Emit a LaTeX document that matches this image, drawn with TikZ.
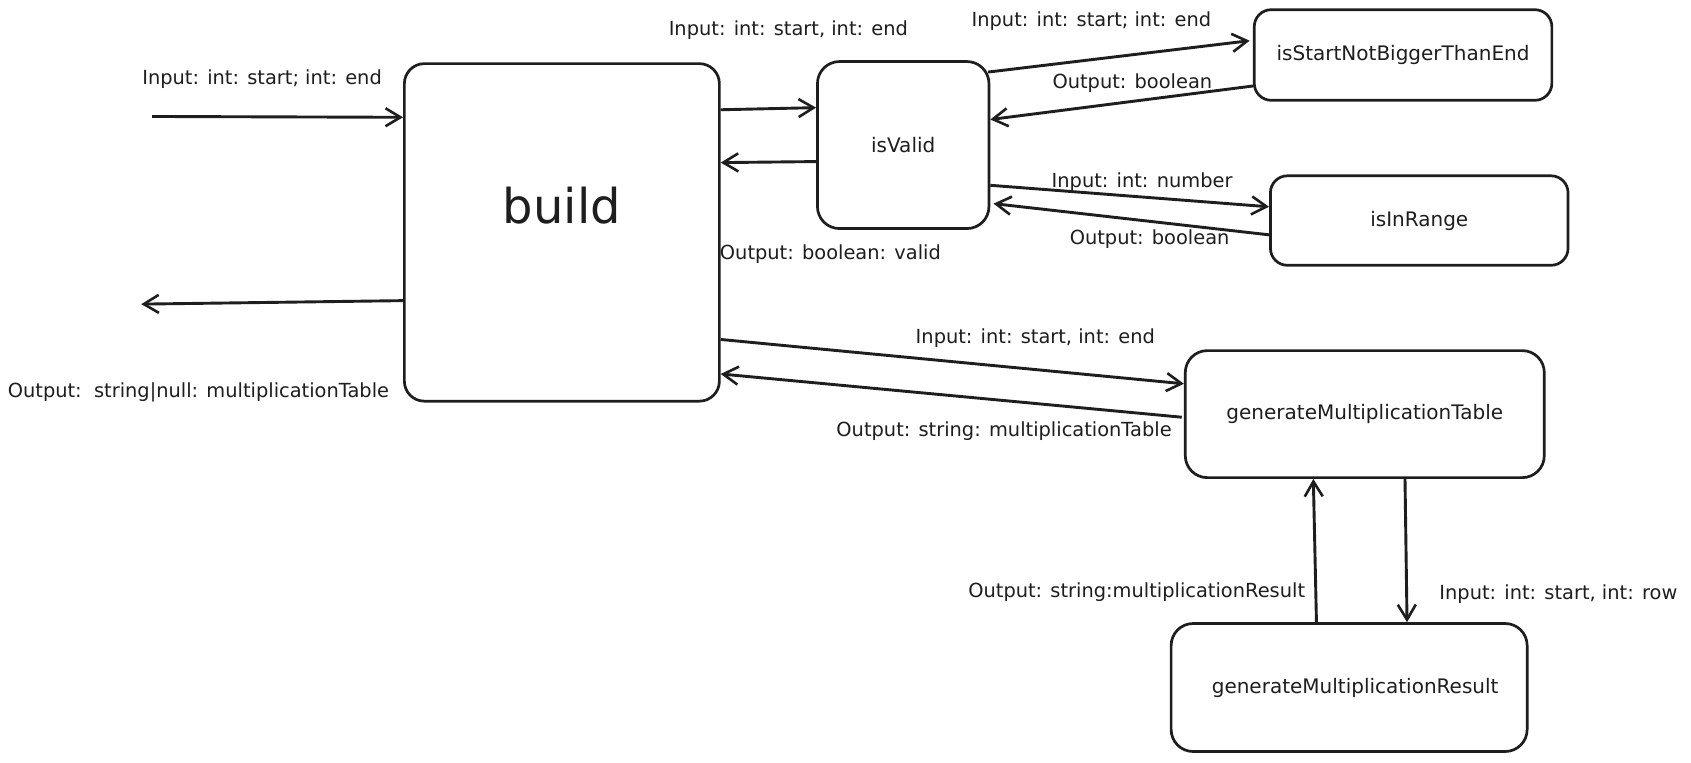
\documentclass[tikz,border=0pt]{standalone}
\usepackage{fontspec}
\setmainfont{DejaVu Sans}
\usetikzlibrary{arrows.meta,calc}
\definecolor{ink}{HTML}{1E1E1E}
\tikzset{
  box/.style={draw=ink, line width=2.7pt, rounded corners=20pt, inner sep=0pt, text=ink, font=\fontsize{20}{24}\selectfont},
  arr/.style={draw=ink, line width=2.9pt, -{Straight Barb[length=15pt,width=18pt,line width=2.6pt]}},
  lbl/.style={inner sep=0pt, text=ink, font=\fontsize{19.4}{23}\selectfont},
}
\begin{document}
\begin{tikzpicture}[x=1.0784pt,y=-1.0784pt]
\useasboundingbox[fill=white] (0,0) rectangle (1568,707);
% boxes
\node[box, minimum width=315pt, minimum height=337.5pt,
      label={[lbl, font=\fontsize{48}{56}\selectfont, yshift=27pt]center:build}] (build) at (521,215.5) {};
\node[box, minimum width=171.5pt, minimum height=167pt, rounded corners=22pt] (isValid) at (837.5,134.5) {isValid};
\node[box, minimum width=297.6pt, minimum height=90.6pt, rounded corners=17pt] (isStart) at (1301,51) {isStartNotBiggerThanEnd};
\node[box, minimum width=297.6pt, minimum height=89.5pt, rounded corners=17pt] (isInRange) at (1316,204.5) {isInRange};
\node[box, minimum width=359pt, minimum height=127pt, rounded corners=22pt] (genTable) at (1265.5,384) {generateMultiplicationTable};
\node[box, minimum width=356pt, minimum height=128pt, rounded corners=22pt] (genResult) at (1251,637.5) {\hspace*{12pt}generateMultiplicationResult};
% free ends
\coordinate (in1) at (141,108);
\coordinate (out1) at (131,282);
% connectors
\draw[arr] (in1) -- ($(build.north west)+(0,51)$);
\draw[arr] ($(build.north west)+(0,221)$) -- (out1);
\draw[arr] ($(build.north east)+(0,44)$) -- ($(isValid.north west)+(0,44)$);
\draw[arr] ($(isValid.north west)+(0,94)$) -- ($(build.north east)+(0,93)$);
\draw[arr] ($(isValid.north east)+(-2,11)$) -- ($(isStart.north west)+(-3,30)$);
\draw[arr] ($(isStart.north west)+(0,72)$) -- ($(isValid.north east)+(0,55)$);
\draw[arr] ($(isValid.north east)+(0,116)$) -- ($(isInRange.north west)+(0,30)$);
\draw[arr] ($(isInRange.north west)+(0,56)$) -- ($(isValid.north east)+(3,133)$);
\draw[arr] ($(build.north east)+(0,257)$) -- ($(genTable.north west)+(0,32)$);
\draw[arr] ($(genTable.north west)+(-2,63)$) -- ($(build.north east)+(0,289)$);
\draw[arr] ($(genResult.north west)+(136,0)$) -- ($(genTable.south west)+(120,0)$);
\draw[arr] ($(genTable.south west)+(205,0)$) -- ($(genResult.north west)+(220,0)$);
% labels
\node[lbl] (l1) at (243,73) {Input: int: start; int: end};
\node[lbl] (l2) at (184,364) {Output:\ \ string|null: multiplicationTable};
\node[lbl] (l3) at (731,28) {Input: int: start, int: end};
\node[lbl] (l4) at (770,236) {Output: boolean: valid};
\node[lbl] (l5) at (1012,20) {Input: int: start; int: end};
\node[lbl] (l6) at (1050,77) {Output: boolean};
\node[lbl] (l7) at (1059,169) {Input: int: number};
\node[lbl] (l8) at (1066,222) {Output: boolean};
\node[lbl] (l9) at (960,314) {Input: int: start, int: end};
\node[lbl] (l10) at (931,400) {Output: string: multiplicationTable};
\node[lbl] (l11) at (1054,549) {Output: string:multiplicationResult};
\node[lbl] (l12) at (1445,551) {Input: int: start, int: row};
\end{tikzpicture}
\end{document}
